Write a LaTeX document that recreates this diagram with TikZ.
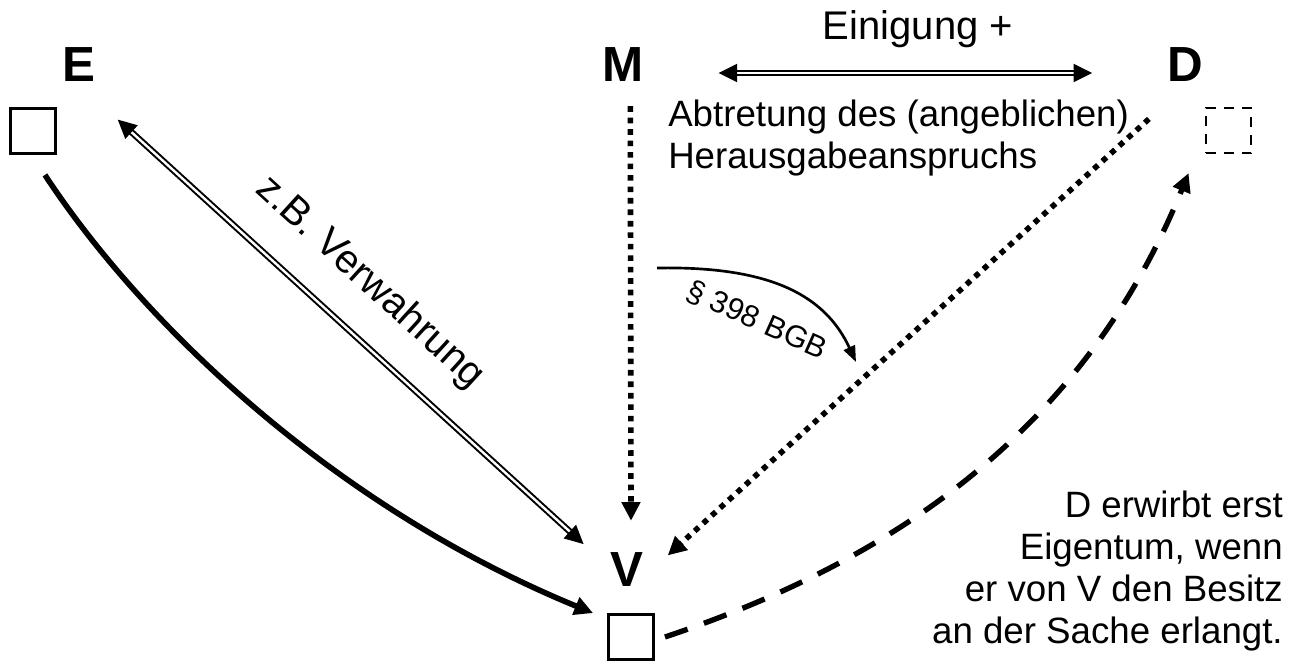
\documentclass[tikz,border=0pt]{standalone}
\usepackage{fontspec}
\setmainfont{Liberation Sans}
\usetikzlibrary{arrows.meta,positioning,calc}

\tikzset{
  party/.style={font=\fontsize{37}{40}\selectfont\bfseries,inner sep=0pt},
  thing/.style={draw,line width=1.9pt,minimum size=34pt,inner sep=0pt},
  txt/.style={font=\fontsize{27.5}{31.5}\selectfont,inner sep=0pt},
  dbl/.style={double,line width=1.5pt,double distance=1.8pt},
  dotline/.style={line width=4.2pt,dash pattern=on 4.2pt off 4.4pt},
  dashline/.style={line width=4pt,dash pattern=on 18pt off 13pt},
  thickline/.style={line width=4.2pt}
}

\begin{document}
\begin{tikzpicture}[x=0.75pt,y=-0.75pt,>={Triangle[length=14pt,width=13.5pt]},line join=miter]
\useasboundingbox (0,0) rectangle (1299,662);

% parties
\node[party] at (79,65) (labE) {E};
\node[party] at (623,65) (labM) {M};
\node[party] at (1185,65) (labD) {D};
\node[party] at (627,570) (labV) {V};

\node[thing] at (33,131) (boxE) {};
\node[thing,dash pattern=on 7.5pt off 6pt] at (1228.5,130.5) (boxD) {};
\node[thing] at (631,637) (boxV) {};

% texts
\node[txt,font=\fontsize{30}{32}\selectfont,anchor=base] at (918,39) (ein) {Einigung +};
\node[txt,anchor=base west] at (668,126) (abtr) {Abtretung des (angeblichen)};
\node[txt,anchor=base west] at (668,168) (heraus) {Herausgabeanspruchs};
\node[txt,anchor=base east] at (1283,517) (erw1) {D erwirbt erst};
\node[txt,anchor=base east] at (1283,559) (erw2) {Eigentum, wenn};
\node[txt,anchor=base east] at (1283,601) (erw3) {er von V den Besitz};
\node[txt,anchor=base east] at (1283,643) (erw4) {an der Sache erlangt.};

\coordinate (p398a) at (657,268);
\coordinate (p398b) at (856,362);

% connectors
\draw [dbl,<->] ([xshift=16.5pt,yshift=-28pt]labE.south east) -- ([xshift=-20pt,yshift=6.5pt]labV.north west)
  node[pos=0.47,above=22pt,sloped,txt,font=\fontsize{30}{32}\selectfont] (verw) {z.B. Verwahrung};
\draw [dbl,<->] ([xshift=56pt,yshift=-6pt]labM.east) -- ([xshift=-56pt,yshift=-6pt]labD.west);
\draw [dotline,->] ([xshift=5.5pt,yshift=-18pt]labM.south) -- ([xshift=3pt,yshift=24pt]labV.north);
\draw [dotline,->] ([xshift=-13.5pt,yshift=-27.5pt]labD.south west) -- ([xshift=18pt,yshift=-2pt]labV.north east);
\draw [thickline,->] ([xshift=-9pt,yshift=-15pt]boxE.south east) .. controls (140,320) and (330,505) .. ([xshift=-10.5pt]boxV.north west);
\draw [dashline,->] ([xshift=7.5pt]boxV.east) .. controls (880,565) and (1080,440) .. ([xshift=-12pt,yshift=-14pt]boxD.south west);
\draw [line width=2pt,->,>={Triangle[length=12pt,width=9pt]}] (p398a) .. controls (770,266) and (825,295) .. (p398b);
\node[font=\fontsize{23}{26}\selectfont,inner sep=0pt,rotate=-24] at (757,320) (para) {§ 398 BGB};

\end{tikzpicture}
\end{document}
